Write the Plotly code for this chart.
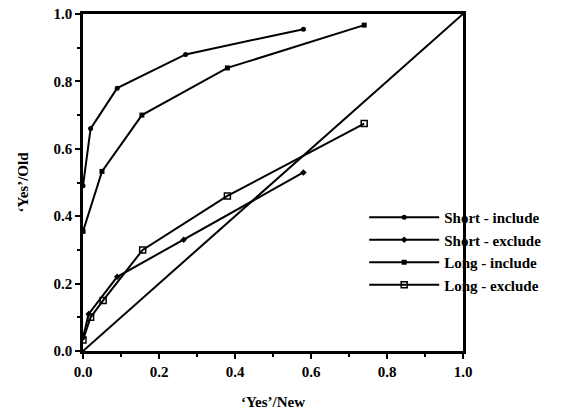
import plotly.graph_objects as go

# Data
short_x = [0.0, 0.02, 0.09, 0.27, 0.58]
short_include_y = [0.49, 0.66, 0.78, 0.88, 0.955]
short_exclude_x = [0.0, 0.015, 0.09, 0.265, 0.58]
short_exclude_y = [0.04, 0.11, 0.22, 0.33, 0.53]
long_include_x = [0.0, 0.05, 0.155, 0.38, 0.74]
long_include_y = [0.355, 0.533, 0.70, 0.84, 0.967]
long_exclude_x = [0.0, 0.02, 0.053, 0.157, 0.38, 0.74]
long_exclude_y = [0.033, 0.10, 0.15, 0.30, 0.46, 0.675]
diag_x = [0.0, 1.0]
diag_y = [0.0, 1.0]

x_ticks = [0.0, 0.2, 0.4, 0.6, 0.8, 1.0]
tick_text = ["0.0", "0.2", "0.4", "0.6", "0.8", "1.0"]

FONT = "Liberation Serif"
BLACK = "black"

fig = go.Figure()

fig.add_trace(go.Scatter(
    x=short_x, y=short_include_y, mode="lines+markers", name="<b>Short - include</b>",
    line=dict(color=BLACK, width=2), marker=dict(symbol="circle", size=5, color=BLACK)))
fig.add_trace(go.Scatter(
    x=short_exclude_x, y=short_exclude_y, mode="lines+markers", name="<b>Short - exclude</b>",
    line=dict(color=BLACK, width=2), marker=dict(symbol="diamond", size=5, color=BLACK)))
fig.add_trace(go.Scatter(
    x=long_include_x, y=long_include_y, mode="lines+markers", name="<b>Long - include</b>",
    line=dict(color=BLACK, width=2), marker=dict(symbol="square", size=5, color=BLACK)))
fig.add_trace(go.Scatter(
    x=long_exclude_x, y=long_exclude_y, mode="lines+markers", name="<b>Long - exclude</b>",
    line=dict(color=BLACK, width=2),
    marker=dict(symbol="square-open", size=6, color=BLACK, line=dict(width=1.5))))
fig.add_trace(go.Scatter(
    x=diag_x, y=diag_y, mode="lines", showlegend=False,
    line=dict(color=BLACK, width=2)))

axis_common = dict(
    range=[0, 1.0], tickvals=x_ticks, ticktext=["<b>%s</b>" % t for t in tick_text],
    ticks="outside", ticklen=5, tickwidth=2, tickcolor=BLACK,
    showline=True, linecolor=BLACK, linewidth=2.5, mirror=True,
    showgrid=False, zeroline=False, automargin=False, ticklabeloverflow="allow",
    tickfont=dict(family=FONT, size=15, color=BLACK),
    minor=dict(tickvals=[0.1, 0.3, 0.5, 0.7, 0.9], ticks="outside", ticklen=3,
               tickwidth=1.5, tickcolor=BLACK),
)

fig.update_xaxes(**axis_common,
                 title=dict(text="<b>‘Yes’/New</b>", font=dict(family=FONT, size=15, color=BLACK),
                            standoff=27))
fig.update_yaxes(**axis_common,
                 title=dict(text="<b>‘Yes’/Old</b>", font=dict(family=FONT, size=15, color=BLACK),
                            standoff=22))

fig.update_layout(
    width=564, height=410,
    margin=dict(l=83, r=101, t=14, b=59, autoexpand=False),
    paper_bgcolor="white", plot_bgcolor="white",
    font=dict(family=FONT, color=BLACK),
    legend=dict(
        x=0.74, y=0.445, xanchor="left", yanchor="top",
        bgcolor="rgba(0,0,0,0)", borderwidth=0,
        font=dict(family=FONT, size=15, color=BLACK),
        itemwidth=70, tracegroupgap=0,
    ),
)

# remove the default 8px page margin so the figure fills the window exactly
fig.write_html("out.html", config={"displayModeBar": False},
               post_script="document.body.style.margin='0px';")
